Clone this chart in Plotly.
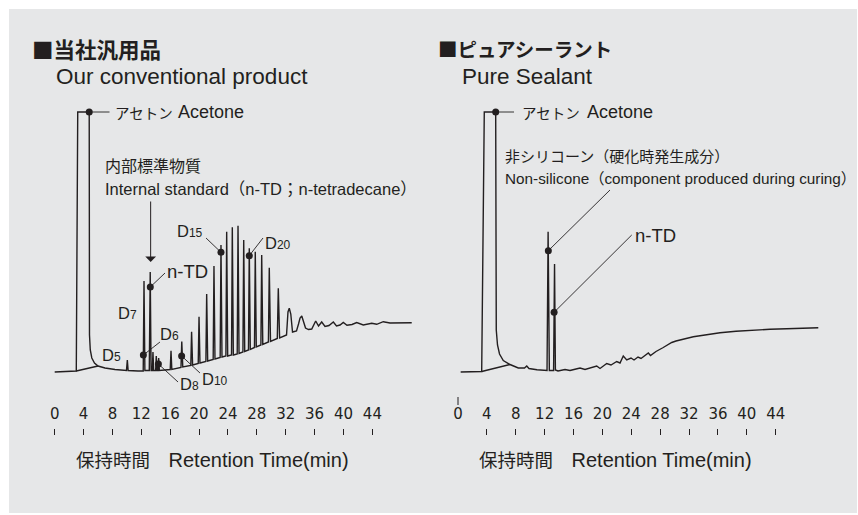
import plotly.graph_objects as go

W, H = 858, 515
INK = "#231f20"
PANEL = "#e6e7e8"
LAT = "Liberation Sans, Arial, Helvetica, sans-serif"
MIX = "Liberation Sans, Noto Sans CJK JP, sans-serif"
JP = "Noto Sans CJK JP, Liberation Sans, sans-serif"
TICKF = "DejaVu Sans, Liberation Sans, sans-serif"

# ---------------- data (retention time in min, detector signal in arbitrary units) -------------
conv_time = [0.00, 2.67, 2.99, 3.19, 4.78, 4.82, 4.93, 5.14, 5.51, 6.00, 6.97, 8.35,
             9.94, 10.06, 10.17, 11.54,
             12.26, 12.37, 12.49, 13.10, 13.23, 13.35,
             13.52, 13.61, 13.71, 13.98, 14.07, 14.17, 14.31, 14.40, 14.50,
             16.00, 16.11, 16.22, 17.49, 17.60, 17.74, 18.85, 18.96, 19.10,
             19.88, 19.99, 20.12, 20.94, 21.05, 21.19, 21.95, 22.06, 22.20,
             22.92, 23.03, 23.17, 23.71, 23.82, 23.96, 24.49, 24.60, 24.74,
             25.28, 25.39, 25.53, 26.07, 26.18, 26.32, 26.84, 26.95, 27.09,
             27.67, 27.78, 27.92, 28.56, 28.67, 28.82, 29.60, 29.72, 29.89,
             30.83, 30.97, 31.15, 32.11, 32.31, 32.49, 32.70, 32.94,
             33.49, 33.77, 33.98, 34.22, 34.43, 34.74, 35.15, 35.60, 36.15, 36.54,
             36.98, 37.44, 37.99, 38.59, 39.03, 39.52, 39.97, 40.48, 41.18, 41.83,
             42.74, 43.91, 44.60, 45.51, 46.44, 49.45]
conv_signal = [0, 0.5, 1.0, 260, 260, 37, 22, 14, 9, 6, 4, 2.5,
               1.5, 12, 1.5, 1,
               1, 91, 1.5, 1.5, 100, 1.5,
               1.5, 20, 1.5, 1.5, 16, 1.5, 1.5, 14, 1.5,
               2.5, 21.3, 2.5, 4.5, 30.5, 5, 6.5, 40.3, 7,
               8.5, 55.3, 9, 10.5, 78, 11, 12.5, 106, 13,
               14.5, 127, 15, 16, 140.3, 16, 17, 144.7, 17,
               18, 146.3, 18.5, 20, 132, 20.5, 22, 123.7, 22.5,
               24.5, 120.3, 25, 27, 117, 27.5, 30, 104.3, 30.5,
               33.5, 83.7, 34, 37, 60, 63.7, 58, 40,
               41, 48, 54, 56, 51, 44, 42.5, 43, 51, 46,
               50, 45.5, 46.5, 50, 46, 47, 49.5, 46.7, 47.5, 49.5,
               47, 48.7, 47.7, 50.3, 49, 49.3]
conv_base_time = [2.99, 6.00]
conv_base_signal = [1.0, 6.0]

pure_time = [0.37, 2.98, 3.28, 3.64, 5.22, 5.30, 5.47, 5.75, 6.27, 7.20, 8.35, 9.21, 9.52, 9.83, 10.94,
             12.33, 12.48, 12.65, 13.24, 13.37, 13.49,
             13.85, 14.82, 15.51, 16.20, 16.90, 17.59, 18.28, 19.21, 19.67, 20.60, 21.19, 21.98, 22.44,
             22.89, 23.37, 23.96, 24.38, 24.93, 25.35, 25.90, 26.36, 26.66, 27.42, 28.43, 29.60,
             30.19, 30.75, 31.68, 32.59, 34.21, 36.29, 38.50, 40.90, 43.21, 45.53, 49.90]
pure_signal = [0, 0, 0.5, 260, 260, 42, 27, 18, 11.5, 7.5, 4, 4, 6, 3.5, 2.2,
               1.5, 140.3, 1.5, 1.5, 108, 2,
               1, 2.5, 1.5, 3, 4, 2.5, 4, 6, 3.5, 8.5, 7, 10.5, 9,
               16, 12, 14, 12, 15, 13.5, 17, 19, 16.5, 20.5, 24.5, 29.5,
               31, 32, 34, 35.3, 37, 39.3, 40.7, 42, 42.7, 43.3, 44.3]
pure_base_time = [3.28, 7.20]
pure_base_signal = [0.5, 7.5]

# marked peaks (dot positions)
conv_dot_time = [4.78, 13.24, 12.28, 14.36, 17.58, 23.03, 26.95]
conv_dot_signal = [260, 85, 17, 8, 16, 119.7, 116.3]
pure_dot_time = [5.22, 12.51, 13.31]
pure_dot_signal = [260, 121.3, 59.7]

# axis ticks
tick_vals = [0, 4, 8, 12, 16, 20, 24, 28, 32, 36, 40, 44]
tick_text = [str(v) for v in tick_vals]
pure_tick_marks = [4, 8, 12, 16, 20, 24, 28, 32, 36, 40, 44]

# leader lines: (t0, s0, t1, s1)
conv_leaders = [(4.78, 260, 7.59, 260), (13.24, 85, 15.28, 99), (12.28, 17, 14.58, 30),
                (14.36, 8, 17.08, -10), (17.58, 16, 20.12, -1), (23.03, 119.7, 20.96, 134),
                (26.95, 116.3, 28.85, 134)]
pure_leaders = [(5.22, 260, 7.76, 260), (12.51, 121.3, 21.05, 182), (13.31, 59.7, 24.06, 137)]


def sub(main, small):
    return f"{main}<span style='font-size:12px'>{small}</span>"


# (text, t, signal, size, family, xanchor)
conv_labels = [
    ("アセトン", 8.35, 260, 14.5, JP, "left"),
    ("Acetone", 17.12, 260, 18, LAT, "left"),
    ("内部標準物質", 6.97, 207, 16, JP, "left"),
    ("Internal standard（n-TD；n-tetradecane）", 6.97, 183, 16.5, MIX, "left"),
    ("n-TD", 15.55, 101, 18.5, LAT, "left"),
    (sub("D", "7"), 8.78, 59, 16.5, LAT, "left"),
    (sub("D", "5"), 6.51, 17, 16.5, LAT, "left"),
    (sub("D", "6"), 14.65, 38, 16.5, LAT, "left"),
    (sub("D", "8"), 17.35, -12, 16.5, LAT, "left"),
    (sub("D", "10"), 20.40, -7, 16.5, LAT, "left"),
    (sub("D", "15"), 20.54, 141, 16.5, LAT, "right"),
    (sub("D", "20"), 29.13, 129, 16.5, LAT, "left"),
]
pure_labels = [
    ("アセトン", 8.86, 260, 14.5, JP, "left"),
    ("Acetone", 17.83, 260, 18, LAT, "left"),
    ("非シリコーン（硬化時発生成分）", 6.51, 217, 15, JP, "left"),
    ("Non-silicone（component produced during curing）", 6.51, 194, 15.3, MIX, "left"),
    ("n-TD", 24.52, 137, 18.5, LAT, "left"),
]

# ---------------- figure ----------------
fig = go.Figure()
line_style = dict(color=INK, width=1.4)
fig.add_trace(go.Scatter(x=conv_time, y=conv_signal, mode="lines", line=line_style,
                         xaxis="x", yaxis="y", hoverinfo="skip"))
fig.add_trace(go.Scatter(x=conv_base_time, y=conv_base_signal, mode="lines", line=line_style,
                         xaxis="x", yaxis="y", hoverinfo="skip"))
fig.add_trace(go.Scatter(x=pure_time, y=pure_signal, mode="lines", line=line_style,
                         xaxis="x2", yaxis="y2", hoverinfo="skip"))
fig.add_trace(go.Scatter(x=pure_base_time, y=pure_base_signal, mode="lines", line=line_style,
                         xaxis="x2", yaxis="y2", hoverinfo="skip"))
# empty traces so that the tick-label axes get their own subplots
fig.add_trace(go.Scatter(x=[None], y=[None], mode="lines", xaxis="x3", yaxis="y", hoverinfo="skip"))
fig.add_trace(go.Scatter(x=[None], y=[None], mode="lines", xaxis="x4", yaxis="y2", hoverinfo="skip"))

shapes = [dict(type="rect", xref="paper", yref="paper", x0=9 / W, x1=857 / W,
               y0=2 / H, y1=(H - 9) / H, fillcolor=PANEL, line=dict(width=0), layer="below")]
for (t0, s0, t1, s1) in conv_leaders:
    shapes.append(dict(type="line", xref="x", yref="y", x0=t0, y0=s0, x1=t1, y1=s1,
                       line=dict(color=INK, width=0.9)))
for (t0, s0, t1, s1) in pure_leaders:
    shapes.append(dict(type="line", xref="x2", yref="y2", x0=t0, y0=s0, x1=t1, y1=s1,
                       line=dict(color=INK, width=0.9)))
# stray tick printed above the "0" of the right-hand scale
shapes.append(dict(type="line", xref="x2", yref="y2", x0=0, x1=0, y0=-25, y1=-33,
                   line=dict(color=INK, width=1)))

fig.add_trace(go.Scatter(x=conv_dot_time, y=conv_dot_signal, mode="markers",
                         marker=dict(color=INK, size=7), xaxis="x", yaxis="y", hoverinfo="skip"))
fig.add_trace(go.Scatter(x=pure_dot_time, y=pure_dot_signal, mode="markers",
                         marker=dict(color=INK, size=7), xaxis="x2", yaxis="y2", hoverinfo="skip"))

ann = []
for (txt, t, s, size, fam, xa) in conv_labels:
    ann.append(dict(text=txt, x=t, y=s, xref="x", yref="y", showarrow=False, xanchor=xa,
                    yanchor="middle", borderpad=0, borderwidth=0,
                    font=dict(size=size, family=fam, color=INK)))
for (txt, t, s, size, fam, xa) in pure_labels:
    ann.append(dict(text=txt, x=t, y=s, xref="x2", yref="y2", showarrow=False, xanchor=xa,
                    yanchor="middle", borderpad=0, borderwidth=0,
                    font=dict(size=size, family=fam, color=INK)))
# internal-standard arrow
ann.append(dict(text="", x=13.29, y=110, xref="x", yref="y", ax=13.29, ay=172, axref="x", ayref="y",
                showarrow=True, arrowhead=1, arrowsize=1.8, arrowwidth=1, arrowcolor=INK, standoff=0))


def ptxt(txt, px, py, size, fam, weight="normal"):
    return dict(text=txt, x=px / W, y=(H - py) / H, xref="paper", yref="paper", showarrow=False,
                xanchor="left", yanchor="middle", borderpad=0, borderwidth=0,
                font=dict(size=size, family=fam, color=INK, weight=weight))


axis_title = "保持時間　<span style='font-size:20px'>Retention Time(min)</span>"
ann += [
    ptxt("■当社汎用品", 32, 48, 21.5, JP, "bold"),
    ptxt("Our conventional product", 56, 76, 22.5, LAT),
    ptxt("■ピュアシーラント", 438, 48, 19.5, JP, "bold"),
    ptxt("Pure Sealant", 462, 76, 22.5, LAT),
    ptxt(axis_title, 76, 460, 18.5, MIX),
    ptxt(axis_title, 479, 460, 18.5, MIX),
]

LEFT_RANGE = [-7.576, 51.842]
RIGHT_RANGE = [-4.017, 55.40]
Y_RANGE = [-143, 372]
tick_axis = dict(anchor="free", position=(H - 435) / H, side="bottom", ticks="inside", ticklen=6,
                 tickwidth=1, tickcolor=INK, tickmode="array", showticklabels=False,
                 showgrid=False, zeroline=False, showline=False, fixedrange=True)
label_axis = dict(side="bottom", ticks="", tickmode="array",
                  tickvals=tick_vals, ticktext=tick_text,
                  tickfont=dict(size=15, family=TICKF, color=INK),
                  showgrid=False, zeroline=False, showline=False, fixedrange=True)

fig.update_layout(
    width=W, height=H, autosize=False,
    margin=dict(l=0, r=0, t=0, b=0),
    paper_bgcolor="white", plot_bgcolor="rgba(0,0,0,0)",
    showlegend=False,
    xaxis=dict(domain=[0, 0.5], range=LEFT_RANGE, tickvals=tick_vals, **tick_axis),
    xaxis2=dict(domain=[0.5, 1], range=RIGHT_RANGE, tickvals=pure_tick_marks, **tick_axis),
    xaxis3=dict(overlaying="x", range=LEFT_RANGE, anchor="free", position=(H - 403) / H, **label_axis),
    xaxis4=dict(overlaying="x2", range=RIGHT_RANGE, anchor="free", position=(H - 403) / H, **label_axis),
    yaxis=dict(domain=[0, 1], range=Y_RANGE, visible=False, anchor="x", fixedrange=True),
    yaxis2=dict(domain=[0, 1], range=Y_RANGE, visible=False, anchor="x2", fixedrange=True),
    shapes=shapes,
    annotations=ann,
)

fig.write_html("out.html", config={"displayModeBar": False},
               post_script="document.body.style.margin='0';document.body.style.padding='0';")
